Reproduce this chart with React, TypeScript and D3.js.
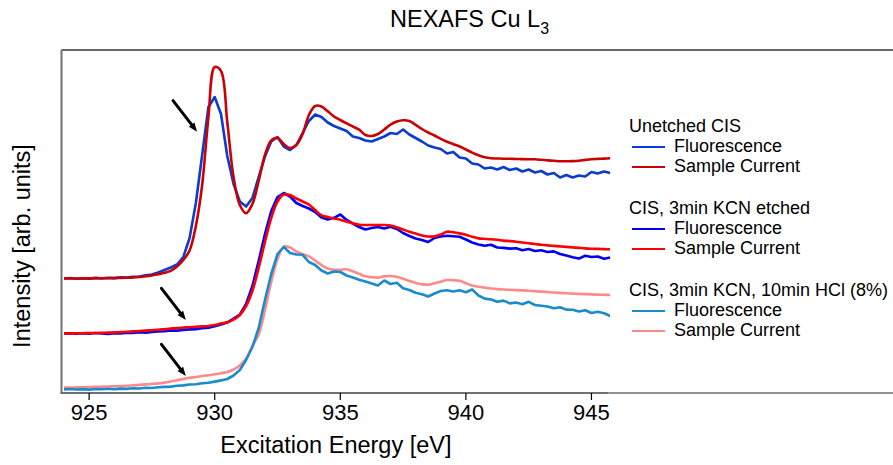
import React from "react";
import * as d3 from "d3";

// Energy grid of the scans (eV): first point and step
const energyStart = 924;
const energyStep = 0.25;

// Unetched CIS
const unetchedFluorescence = [
  1.145, 1.150, 1.142, 1.148, 1.144, 1.151, 1.146, 1.152,
  1.149, 1.156, 1.154, 1.162, 1.165, 1.178, 1.184, 1.205,
  1.230, 1.255, 1.285, 1.360, 1.550, 1.900, 2.380, 2.860,
  2.960, 2.790, 2.370, 2.090, 1.915, 1.865, 1.950, 2.160,
  2.365, 2.515, 2.560, 2.465, 2.430, 2.480, 2.600, 2.720,
  2.785, 2.760, 2.705, 2.670, 2.645, 2.620, 2.565, 2.550,
  2.525, 2.515, 2.540, 2.565, 2.600, 2.590, 2.635, 2.585,
  2.550, 2.515, 2.475, 2.455, 2.440, 2.395, 2.410, 2.355,
  2.345, 2.295, 2.285, 2.245, 2.255, 2.235, 2.260, 2.230,
  2.245, 2.215, 2.235, 2.205, 2.220, 2.185, 2.200, 2.155,
  2.180, 2.155, 2.175, 2.165, 2.210, 2.195, 2.215, 2.200,
];
const unetchedCurrent = [
  1.145, 1.145, 1.145, 1.146, 1.146, 1.147, 1.147, 1.148,
  1.149, 1.150, 1.152, 1.155, 1.160, 1.167, 1.175, 1.188,
  1.202, 1.222, 1.265, 1.330, 1.425, 1.670, 2.080, 2.760,
  3.260, 3.220, 2.710, 2.160, 1.880, 1.798, 1.890, 2.120,
  2.380, 2.525, 2.550, 2.490, 2.450, 2.480, 2.590, 2.780,
  2.870, 2.865, 2.817, 2.765, 2.730, 2.697, 2.665, 2.633,
  2.580, 2.570, 2.590, 2.635, 2.683, 2.714, 2.727, 2.720,
  2.682, 2.640, 2.605, 2.575, 2.542, 2.512, 2.488, 2.465,
  2.435, 2.404, 2.377, 2.357, 2.347, 2.345, 2.343, 2.342,
  2.340, 2.339, 2.338, 2.337, 2.332, 2.326, 2.322, 2.317,
  2.318, 2.319, 2.323, 2.331, 2.338, 2.341, 2.344, 2.347,
];

// CIS, 3 min KCN etched
const kcnFluorescence = [
  0.594, 0.598, 0.592, 0.597, 0.593, 0.600, 0.595, 0.591,
  0.598, 0.596, 0.604, 0.601, 0.607, 0.604, 0.611, 0.615,
  0.618, 0.626, 0.624, 0.630, 0.636, 0.638, 0.647, 0.652,
  0.668, 0.685, 0.704, 0.745, 0.785, 0.890, 1.070, 1.320,
  1.590, 1.820, 1.960, 2.000, 1.965, 1.900, 1.870, 1.845,
  1.810, 1.755, 1.735, 1.752, 1.785, 1.730, 1.695, 1.660,
  1.635, 1.650, 1.660, 1.645, 1.662, 1.640, 1.600, 1.570,
  1.545, 1.530, 1.510, 1.550, 1.565, 1.572, 1.567, 1.563,
  1.535, 1.505, 1.485, 1.472, 1.483, 1.455, 1.451, 1.444,
  1.448, 1.427, 1.440, 1.420, 1.427, 1.410, 1.416, 1.390,
  1.375, 1.358, 1.344, 1.372, 1.360, 1.365, 1.342, 1.355,
];
const kcnCurrent = [
  0.595, 0.596, 0.597, 0.598, 0.599, 0.600, 0.602, 0.604,
  0.606, 0.609, 0.612, 0.616, 0.620, 0.624, 0.628, 0.632,
  0.638, 0.644, 0.650, 0.654, 0.658, 0.662, 0.666, 0.670,
  0.680, 0.695, 0.707, 0.734, 0.780, 0.870, 1.020, 1.250,
  1.510, 1.750, 1.915, 1.985, 1.980, 1.945, 1.915, 1.885,
  1.830, 1.777, 1.760, 1.746, 1.732, 1.713, 1.697, 1.682,
  1.680, 1.680, 1.680, 1.680, 1.675, 1.657, 1.635, 1.612,
  1.594, 1.576, 1.565, 1.566, 1.585, 1.613, 1.607, 1.596,
  1.582, 1.562, 1.546, 1.542, 1.538, 1.532, 1.524, 1.519,
  1.513, 1.505, 1.497, 1.490, 1.482, 1.476, 1.471, 1.466,
  1.461, 1.456, 1.451, 1.446, 1.443, 1.441, 1.439, 1.437,
];

// CIS, 3 min KCN + 10 min HCl (8%)
const hclFluorescence = [
  0.036, 0.040, 0.035, 0.039, 0.034, 0.040, 0.037, 0.042,
  0.038, 0.044, 0.041, 0.047, 0.045, 0.052, 0.050, 0.057,
  0.061, 0.064, 0.072, 0.076, 0.085, 0.088, 0.097, 0.102,
  0.114, 0.126, 0.140, 0.175, 0.230, 0.330, 0.460, 0.650,
  0.930, 1.190, 1.390, 1.460, 1.400, 1.385, 1.382, 1.310,
  1.280, 1.225, 1.195, 1.215, 1.210, 1.175, 1.155, 1.132,
  1.115, 1.095, 1.075, 1.125, 1.090, 1.102, 1.047, 1.030,
  1.002, 0.988, 0.965, 0.995, 1.020, 1.028, 1.015, 1.028,
  1.008, 1.035, 0.975, 0.944, 0.935, 0.912, 0.924, 0.896,
  0.905, 0.888, 0.912, 0.880, 0.872, 0.865, 0.848, 0.858,
  0.834, 0.832, 0.815, 0.828, 0.800, 0.812, 0.798, 0.770,
];
const hclCurrent = [
  0.054, 0.055, 0.056, 0.058, 0.059, 0.061, 0.063, 0.065,
  0.067, 0.069, 0.071, 0.076, 0.081, 0.086, 0.091, 0.096,
  0.104, 0.115, 0.127, 0.140, 0.152, 0.160, 0.170, 0.178,
  0.187, 0.198, 0.210, 0.235, 0.275, 0.345, 0.470, 0.585,
  0.830, 1.110, 1.340, 1.463, 1.456, 1.415, 1.388, 1.366,
  1.324, 1.280, 1.245, 1.232, 1.232, 1.237, 1.217, 1.192,
  1.167, 1.158, 1.154, 1.166, 1.170, 1.163, 1.142, 1.121,
  1.101, 1.088, 1.082, 1.097, 1.113, 1.130, 1.127, 1.123,
  1.098, 1.075, 1.063, 1.054, 1.045, 1.039, 1.035, 1.032,
  1.029, 1.026, 1.022, 1.019, 1.014, 1.010, 1.005, 1.001,
  0.997, 0.994, 0.991, 0.989, 0.986, 0.984, 0.982, 0.980,
];

const xTicks = [925, 930, 935, 940, 945];

// Pre-edge arrows: [E0, I0, E1, I1]
const arrows = [
  [928.34, 2.923, 929.3, 2.613],
  [927.88, 1.047, 928.85, 0.73],
  [927.88, 0.487, 928.85, 0.17],
];

const legendGroups = ["Unetched CIS", "CIS, 3min KCN etched", "CIS, 3min KCN, 10min HCl (8%)"];
const legendItems = ["Fluorescence", "Sample Current"];

const series = [
  { values: unetchedFluorescence, color: "#0b3bd0", smooth: false },
  { values: unetchedCurrent, color: "#cc0000", smooth: true },
  { values: kcnFluorescence, color: "#0000f5", smooth: false },
  { values: kcnCurrent, color: "#ff0000", smooth: true },
  { values: hclFluorescence, color: "#1a8bcc", smooth: false },
  { values: hclCurrent, color: "#ff8a8a", smooth: true },
];
// drawing order of the six spectra (indices into series)
const drawOrder = [5, 4, 2, 3, 0, 1];

const W = 893;
const H = 465;
const left = 61.5;
const top = 50;
const bottom = 393;
const plotRight = 610.3;
const FONT = "Liberation Sans, Arial, Helvetica, sans-serif";

export default function App() {
  const x = d3.scaleLinear().domain([923.9, 945.75]).range([left, plotRight]);
  const y = d3.scaleLinear().domain([0, 3.43]).range([bottom, top]);
  const energy = (i: number) => energyStart + energyStep * i;

  const makeLine = (smooth: boolean) =>
    d3
      .line<number>()
      .x((_, i) => x(energy(i)))
      .y((v) => y(v))
      .curve(smooth ? d3.curveCatmullRom.alpha(0.5) : d3.curveLinear);

  return (
    <svg
      width={W}
      height={H}
      style={{ position: "absolute", left: 0, top: 0, background: "#fff" }}
      fontFamily={FONT}
    >
      <defs>
        <clipPath id="plotClip">
          <rect x={left} y={top} width={plotRight - left} height={bottom - top} />
        </clipPath>
      </defs>

      {/* title */}
      <text x={390} y={27} fontSize={23.5} fill="#000">
        NEXAFS Cu L
        <tspan fontSize={16} dy={7}>3</tspan>
      </text>

      {/* frame */}
      <line x1={left} x2={W} y1={top} y2={top} stroke="#333" strokeWidth={1.3} />
      <line x1={plotRight - 2} x2={W} y1={bottom} y2={bottom} stroke="#222" strokeWidth={1.2} />

      {/* spectra */}
      <g clipPath="url(#plotClip)">
        {drawOrder.map((k) => {
          const s = series[k];
          return (
            <path
              key={k}
              d={makeLine(s.smooth)(s.values) || ""}
              fill="none"
              stroke={s.color}
              strokeWidth={2.6}
              strokeLinejoin="round"
            />
          );
        })}
      </g>

      {/* axes */}
      <line x1={left} x2={left} y1={top} y2={bottom} stroke="#707070" strokeWidth={2} />
      <line x1={left - 1} x2={plotRight - 2} y1={bottom} y2={bottom} stroke="#707070" strokeWidth={2} />
      {xTicks.map((t) => (
        <g key={t}>
          <line x1={x(t)} x2={x(t)} y1={bottom} y2={bottom + 7} stroke="#000" strokeWidth={1.2} />
          <text x={x(t)} y={420} fontSize={22} textAnchor="middle" fill="#000">
            {t}
          </text>
        </g>
      ))}
      <text x={(left + plotRight) / 2} y={453} fontSize={23.5} textAnchor="middle" fill="#000">
        Excitation Energy [eV]
      </text>
      <text
        transform="translate(30, 246) rotate(-90)"
        fontSize={23.5}
        textAnchor="middle"
        fill="#000"
      >
        Intensity [arb. units]
      </text>

      {/* arrows */}
      {arrows.map(([e0, i0, e1, i1], k) => {
        const x0 = x(e0), y0 = y(i0), x1 = x(e1), y1 = y(i1);
        const ang = Math.atan2(y1 - y0, x1 - x0);
        const hl = 9, hw = 3.5;
        const bx = x1 - hl * Math.cos(ang), by = y1 - hl * Math.sin(ang);
        const px = -Math.sin(ang) * hw, py = Math.cos(ang) * hw;
        return (
          <g key={k}>
            <line x1={x0} y1={y0} x2={bx} y2={by} stroke="#000" strokeWidth={3} strokeLinecap="round" />
            <polygon points={`${x1},${y1} ${bx + px},${by + py} ${bx - px},${by - py}`} fill="#000" />
          </g>
        );
      })}

      {/* legend */}
      {legendGroups.map((g, gi) => {
        const base = 132 + gi * 82;
        return (
          <g key={g}>
            <text x={629} y={base} fontSize={18} fill="#000">
              {g}
            </text>
            {legendItems.map((it, ii) => {
              const s = series[gi * 2 + ii];
              const by = base + 20 * (ii + 1);
              return (
                <g key={it}>
                  <line x1={632} x2={665} y1={by - 5} y2={by - 5} stroke={s.color} strokeWidth={2} />
                  <text x={674} y={by} fontSize={18} fill="#000">
                    {it}
                  </text>
                </g>
              );
            })}
          </g>
        );
      })}
    </svg>
  );
}
